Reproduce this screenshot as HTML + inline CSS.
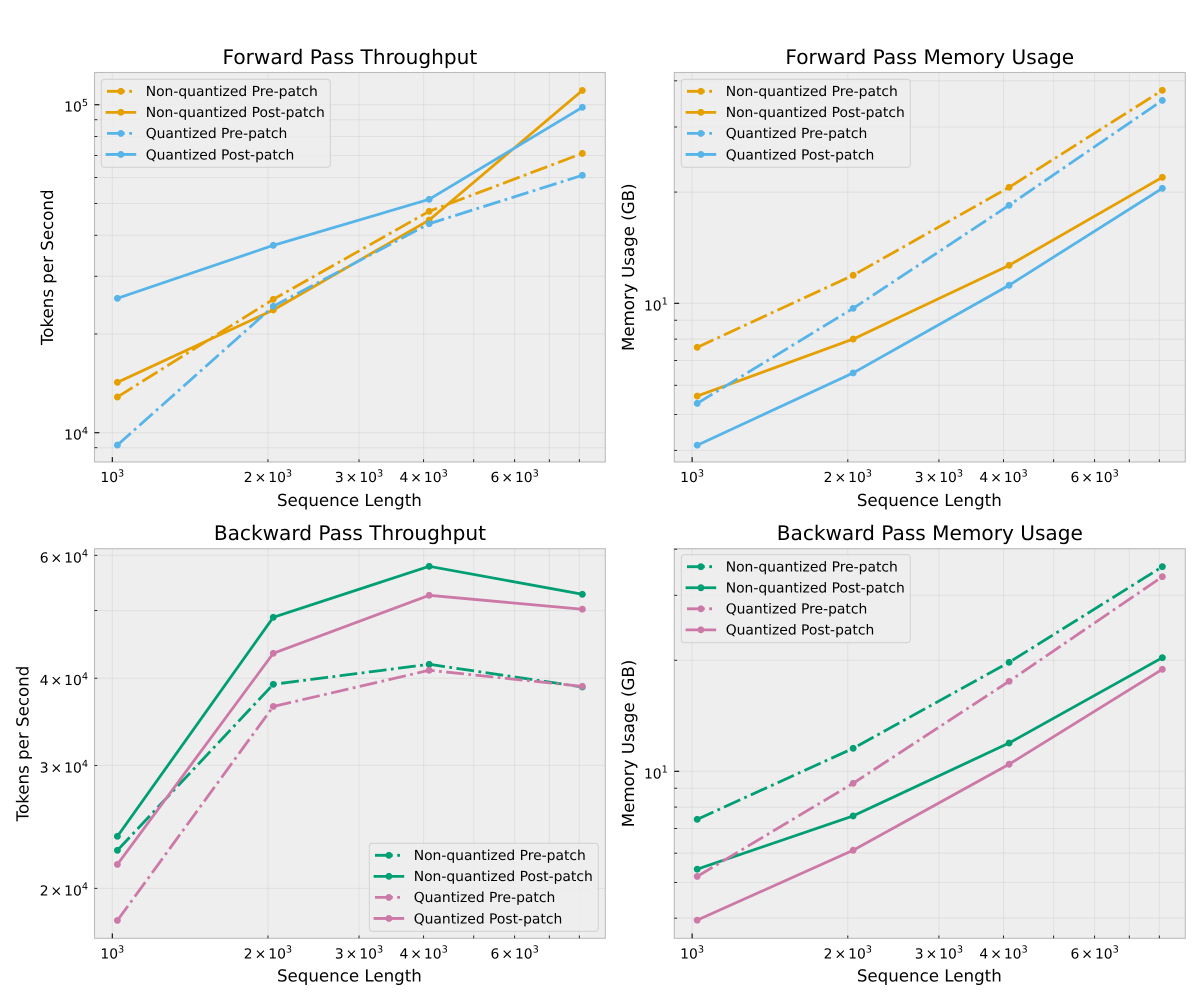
<!DOCTYPE html>
<html lang="en">
<head>
<meta charset="utf-8">
<title>Throughput and Memory Usage</title>
<style>
html,body{margin:0;padding:0;background:#fff;width:1200px;height:1000px;overflow:hidden}
svg{display:block}
text{font-family:"DejaVu Sans","Liberation Sans",sans-serif;fill:#000;text-rendering:geometricPrecision}
</style>
</head>
<body>
<svg id="figure" xmlns="http://www.w3.org/2000/svg" width="1200" height="1000" viewBox="0 0 1200 1000"></svg>
<script>
// ---- Data ----
const seqLengths = [1023, 2048, 4100, 8110];

const fwdTputNqPre = [12850, 25510, 47320, 71070];
const fwdTputNqPost = [14240, 23670, 44500, 110600];
const fwdTputQPre = [9170, 24290, 43370, 60920];
const fwdTputQPost = [25690, 37260, 51470, 98200];

const fwdMemNqPre = [7.60, 11.91, 20.6, 37.7];
const fwdMemNqPost = [5.61, 8.00, 12.67, 21.93];
const fwdMemQPre = [5.36, 9.69, 18.42, 35.4];
const fwdMemQPost = [4.13, 6.48, 11.19, 20.47];

const bwdTputNqPre = [22670, 39200, 41880, 38860];
const bwdTputNqPost = [23740, 48900, 57860, 52760];
const bwdTputQPre = [17990, 36440, 41060, 38940];
const bwdTputQPost = [21640, 43420, 52580, 50220];

const bwdMemNqPre = [7.41, 11.54, 19.74, 35.85];
const bwdMemNqPost = [5.43, 7.57, 11.93, 20.32];
const bwdMemQPre = [5.19, 9.28, 17.54, 33.68];
const bwdMemQPost = [3.95, 6.11, 10.45, 18.90];

const seriesNames = ["Non-quantized Pre-patch", "Non-quantized Post-patch", "Quantized Pre-patch", "Quantized Post-patch"];

const xTicks = [1000, 2000, 3000, 4000, 5000, 6000, 7000, 8000];
const xTickMantissas = ["", "2", "3", "4", "", "6", "", ""];

const fwdTputTicks = [9000, 10000, 20000, 30000, 40000, 50000, 60000, 70000, 80000, 90000, 100000];
const fwdMemTicks = [4, 5, 6, 7, 8, 9, 10, 20, 30, 40];
const bwdTputTicks = [20000, 30000, 40000, 50000, 60000];
const bwdMemTicks = [4, 5, 6, 7, 8, 9, 10, 20, 30, 40];

const fwdTputLabels = { 10000: ["", "10", "4"], 100000: ["", "10", "5"] };
const fwdMemLabels = { 10: ["", "10", "1"] };
const bwdTputLabels = { 20000: ["2", "10", "4"], 30000: ["3", "10", "4"], 40000: ["4", "10", "4"], 60000: ["6", "10", "4"] };
const bwdMemLabels = { 10: ["", "10", "1"] };

// ---- Panel configuration ----
const xDomain = [923.8, 8983];
const ORANGE = "#E69F00", SKY = "#56B4E9", GREEN = "#009E73", PINK = "#CC79A7";
const DASHDOT = "17.8 4.44 2.78 4.44";

const panels = [
  { key: "forward-throughput", title: "Forward Pass Throughput", yLabel: "Tokens per Second",
    box: [94.5, 72.5, 605.3, 462], yDomain: [8142, 125400], yTicks: fwdTputTicks, yTickLabels: fwdTputLabels,
    colors: [ORANGE, SKY], values: [fwdTputNqPre, fwdTputNqPost, fwdTputQPre, fwdTputQPost],
    yLabelX: 53, titleY: 64, xLabelY: 506, legend: [101.3, 79.3, 229, 88] },
  { key: "forward-memory", title: "Forward Pass Memory Usage", yLabel: "Memory Usage (GB)",
    box: [674.3, 72.5, 1185.3, 462], yDomain: [3.72, 42.13], yTicks: fwdMemTicks, yTickLabels: fwdMemLabels,
    colors: [ORANGE, SKY], values: [fwdMemNqPre, fwdMemNqPost, fwdMemQPre, fwdMemQPost],
    yLabelX: 634, titleY: 64, xLabelY: 506, legend: [681.3, 79.3, 229, 88] },
  { key: "backward-throughput", title: "Backward Pass Throughput", yLabel: "Tokens per Second",
    box: [94.5, 548.7, 605.3, 938.3], yDomain: [16960, 61320], yTicks: bwdTputTicks, yTickLabels: bwdTputLabels,
    colors: [GREEN, PINK], values: [bwdTputNqPre, bwdTputNqPost, bwdTputQPre, bwdTputQPost],
    yLabelX: 28.5, titleY: 540, xLabelY: 981.7, legend: [369.3, 843.3, 229, 88] },
  { key: "backward-memory", title: "Backward Pass Memory Usage", yLabel: "Memory Usage (GB)",
    box: [674.3, 548.7, 1185.3, 938.3], yDomain: [3.527, 40.12], yTicks: bwdMemTicks, yTickLabels: bwdMemLabels,
    colors: [GREEN, PINK], values: [bwdMemNqPre, bwdMemNqPost, bwdMemQPre, bwdMemQPost],
    yLabelX: 634, titleY: 540, xLabelY: 981.7, legend: [681.3, 554.7, 229, 88] }
];

// ---- Drawing ----
const NS = "http://www.w3.org/2000/svg";
const figure = document.getElementById("figure");

function make(parent, tag, attrs) {
  const node = document.createElementNS(NS, tag);
  for (const k in attrs) node.setAttribute(k, attrs[k]);
  parent.appendChild(node);
  return node;
}
function logScale(domain, r0, r1) {
  const a = Math.log10(domain[0]), b = Math.log10(domain[1]);
  return v => r0 + (Math.log10(v) - a) / (b - a) * (r1 - r0);
}
function mathLabel(node, parts, size) {
  const mantissa = parts[0], base = parts[1], exp = parts[2];
  if (mantissa) {
    make(node, "tspan", {}).textContent = mantissa;
    make(node, "tspan", { dx: 2 }).textContent = "\u00d7";
    make(node, "tspan", { dx: 2 }).textContent = base;
  } else {
    make(node, "tspan", {}).textContent = base;
  }
  make(node, "tspan", { dy: -5.6, "font-size": size * 0.7 }).textContent = exp;
}

panels.forEach(function (p) {
  const L = p.box[0], T = p.box[1], R = p.box[2], B = p.box[3];
  const x = logScale(xDomain, L, R);
  const y = logScale(p.yDomain, B, T);

  const g = make(figure, "g", {});
  
  

  const bg = make(g, "rect", { x: L, y: T, width: R - L, height: B - T, fill: "#eeeeee" });
  
  

  // Grid
  const grid = make(g, "g", { stroke: "#b2b2b2", "stroke-opacity": 0.22, "stroke-width": 1 });
  
  
  xTicks.forEach(function (t) {
    const line = make(grid, "line", { x1: x(t), x2: x(t), y1: T, y2: B });
    
    
  });
  p.yTicks.forEach(function (t) {
    const line = make(grid, "line", { x1: L, x2: R, y1: y(t), y2: y(t) });
    
    
  });

  // Series
  p.values.forEach(function (vals, i) {
    const color = p.colors[i >> 1];
    const isPre = i % 2 === 0;
    const sg = make(g, "g", {});
    
    
    const pts = vals.map((v, j) => x(seqLengths[j]).toFixed(2) + "," + y(v).toFixed(2)).join(" ");
    const attrs = { points: pts, fill: "none", stroke: color, "stroke-width": 2.78, "stroke-linejoin": "round" };
    if (isPre) attrs["stroke-dasharray"] = DASHDOT;
    const poly = make(sg, "polyline", attrs);
    
    
    vals.forEach(function (v, j) {
      const c = make(sg, "circle", { cx: x(seqLengths[j]), cy: y(v), r: 3.45, fill: color });
      
      
    });
  });

  // Spines
  const spine = make(g, "rect", { x: L, y: T, width: R - L, height: B - T, fill: "none", stroke: "#bcbcbc", "stroke-width": 1.1 });
  
  

  // X ticks + labels
  xTicks.forEach(function (t, i) {
    const major = t === 1000;
    const tick = make(g, "line", { x1: x(t), x2: x(t), y1: B, y2: B - (major ? 4.86 : 2.78), stroke: "#000", "stroke-width": major ? 1.1 : 0.83 });
    
    
    if (major || xTickMantissas[i]) {
      const label = make(g, "text", { x: x(t), y: B + 20, "font-size": 13.89, "text-anchor": "middle" });
      
      
      mathLabel(label, [xTickMantissas[i], "10", "3"], 13.89);
    }
  });

  // Y ticks + labels
  p.yTicks.forEach(function (t) {
    const parts = p.yTickLabels[t];
    const major = Math.abs(Math.log10(t) - Math.round(Math.log10(t))) < 1e-9;
    const tick = make(g, "line", { x1: L, x2: L + (major ? 4.86 : 2.78), y1: y(t), y2: y(t), stroke: "#000", "stroke-width": major ? 1.1 : 0.83 });
    
    
    if (parts) {
      const label = make(g, "text", { x: L - 6.5, y: y(t) + 7, "font-size": 13.89, "text-anchor": "end" });
      
      
      mathLabel(label, parts, 13.89);
    }
  });

  // Titles
  const title = make(g, "text", { x: (L + R) / 2, y: p.titleY, "font-size": 20.1, "text-anchor": "middle" });
  
  
  title.textContent = p.title;

  const xl = make(g, "text", { x: (L + R) / 2 - 0.5, y: p.xLabelY, "font-size": 16.67, "text-anchor": "middle" });
  
  
  xl.textContent = "Sequence Length";

  const yc = (T + B) / 2;
  const yl = make(g, "text", { x: p.yLabelX, y: yc, "font-size": 16.67, "text-anchor": "middle", transform: "rotate(-90 " + p.yLabelX + " " + yc + ")" });
  
  
  yl.textContent = p.yLabel;

  // Legend
  const lx = p.legend[0], ly = p.legend[1];
  const lg = make(g, "g", {});
  
  
  const frame = make(lg, "rect", { x: lx, y: ly, width: p.legend[2], height: p.legend[3], rx: 3, ry: 3, fill: "#eeeeee", "fill-opacity": 0.8, stroke: "#cccccc", "stroke-opacity": 0.8, "stroke-width": 1.1 });
  
  
  seriesNames.forEach(function (name, i) {
    const color = p.colors[i >> 1];
    const isPre = i % 2 === 0;
    const rowY = ly + 12 + i * 21.05;
    const entry = make(lg, "g", {});
    
    
    const attrs = { x1: lx + 5.7, x2: lx + 33.5, y1: rowY, y2: rowY, stroke: color, "stroke-width": 2.78 };
    if (isPre) attrs["stroke-dasharray"] = DASHDOT;
    else attrs["stroke-linecap"] = "square";
    const h = make(entry, "line", attrs);
    
    
    const m = make(entry, "circle", { cx: lx + 19.6, cy: rowY, r: 3.45, fill: color });
    
    
    const t = make(entry, "text", { x: lx + 44.4, y: rowY + 4.8, "font-size": 13.89 });
    
    
    t.textContent = name;
  });
});
</script>
</body>
</html>
